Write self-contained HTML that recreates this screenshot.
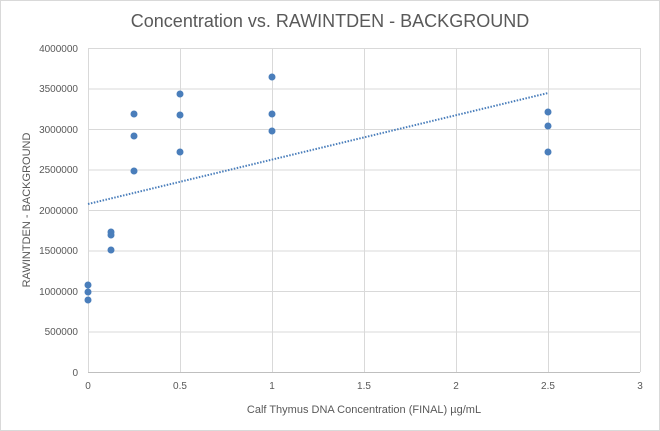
<!DOCTYPE html>
<html><head><style>body{margin:0;background:#fff}svg{display:block}text{font-family:"Liberation Sans",sans-serif;fill:#595959}</style></head><body>
<svg width="660" height="431" viewBox="0 0 660 431">
<rect x="0.5" y="0.5" width="659" height="430" fill="#fff" stroke="#d9d9d9"/>
<text x="330" y="27" text-anchor="middle" font-size="18">Concentration vs. RAWINTDEN - BACKGROUND</text>
<g stroke="#d9d9d9" stroke-width="1">
<line x1="88" y1="48.5" x2="640" y2="48.5"/><line x1="88" y1="89" x2="640" y2="89"/><line x1="88" y1="129.5" x2="640" y2="129.5"/><line x1="88" y1="170" x2="640" y2="170"/><line x1="88" y1="210.5" x2="640" y2="210.5"/><line x1="88" y1="251" x2="640" y2="251"/><line x1="88" y1="291.5" x2="640" y2="291.5"/><line x1="88" y1="332" x2="640" y2="332"/>
<line x1="180.5" y1="48" x2="180.5" y2="372"/><line x1="272.5" y1="48" x2="272.5" y2="372"/><line x1="364.5" y1="48" x2="364.5" y2="372"/><line x1="456.5" y1="48" x2="456.5" y2="372"/><line x1="548.5" y1="48" x2="548.5" y2="372"/><line x1="640.5" y1="48" x2="640.5" y2="372"/>
<line x1="88.5" y1="48" x2="88.5" y2="372"/><line x1="88" y1="372.5" x2="640" y2="372.5" stroke="#bfbfbf"/>
</g>
<g font-size="10" text-anchor="end">
<text x="78" y="52">4000000</text><text x="78" y="92">3500000</text><text x="78" y="133">3000000</text><text x="78" y="173">2500000</text><text x="78" y="214">2000000</text><text x="78" y="254">1500000</text><text x="78" y="295">1000000</text><text x="78" y="335">500000</text><text x="78" y="376">0</text>
</g>
<g font-size="10" text-anchor="middle">
<text x="88" y="389">0</text><text x="180" y="389">0.5</text><text x="272" y="389">1</text><text x="364" y="389">1.5</text><text x="456" y="389">2</text><text x="548" y="389">2.5</text><text x="640" y="389">3</text>
</g>
<text x="364" y="413" font-size="11" text-anchor="middle">Calf Thymus DNA Concentration (FINAL) µg/mL</text>
<text transform="translate(30,210) rotate(-90)" font-size="11" text-anchor="middle">RAWINTDEN - BACKGROUND</text>
<line x1="88" y1="204" x2="548" y2="93" stroke="#4a7ebb" stroke-width="2" stroke-dasharray="1.5,1.5"/>
<g fill="#4a7ebb">
<circle cx="88" cy="285" r="3.5"/><circle cx="88" cy="292" r="3.5"/><circle cx="88" cy="300" r="3.5"/>
<circle cx="111" cy="232" r="3.5"/><circle cx="111" cy="235" r="3.5"/><circle cx="111" cy="250" r="3.5"/>
<circle cx="134" cy="114" r="3.5"/><circle cx="134" cy="136" r="3.5"/><circle cx="134" cy="171" r="3.5"/>
<circle cx="180" cy="94" r="3.5"/><circle cx="180" cy="115" r="3.5"/><circle cx="180" cy="152" r="3.5"/>
<circle cx="272" cy="77" r="3.5"/><circle cx="272" cy="114" r="3.5"/><circle cx="272" cy="131" r="3.5"/>
<circle cx="548" cy="112" r="3.5"/><circle cx="548" cy="126" r="3.5"/><circle cx="548" cy="152" r="3.5"/>
</g>
</svg>
</body></html>
